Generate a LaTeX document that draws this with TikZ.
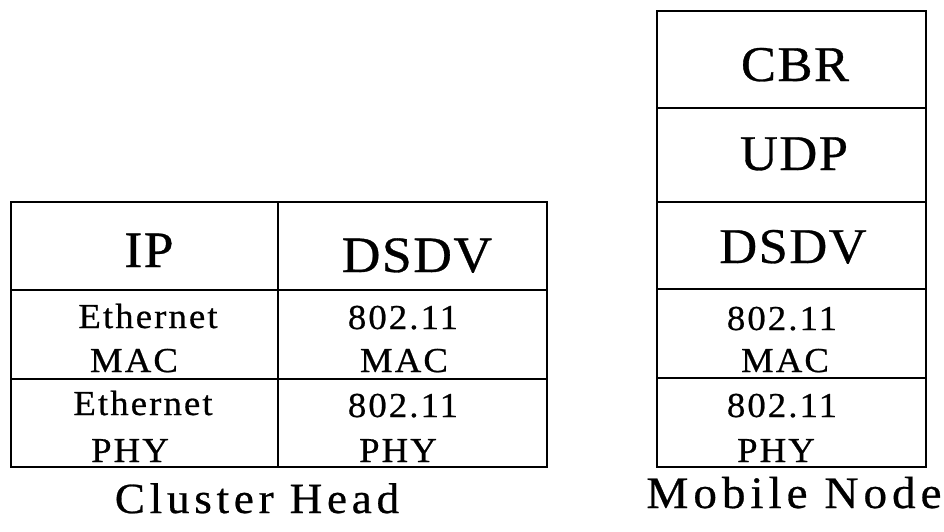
\documentclass[tikz,border=0pt]{standalone}
\usepackage{fontspec}
\setmainfont{Liberation Serif}
\newfontfamily\bigff{Liberation Serif}[FakeStretch=1.05,LetterSpace=3,FakeBold=0.6]
\newfontfamily\smallff{Liberation Serif}[FakeStretch=1.05,LetterSpace=6,FakeBold=0.6]
\newfontfamily\capff{Liberation Serif}[FakeStretch=1.05,LetterSpace=11,FakeBold=0.6]
\begin{document}
\begin{tikzpicture}[x=1pt,y=-1pt,
  tbl/.style={line width=1.8pt,line join=miter},
  big/.style={inner sep=0pt,anchor=base,font=\bigff\fontsize{50}{50}\selectfont},
  small/.style={inner sep=0pt,anchor=base,font=\smallff\fontsize{35}{35}\selectfont},
  captxt/.style={inner sep=0pt,anchor=base,font=\capff\fontsize{44}{44}\selectfont}]
\useasboundingbox[fill=white] (0,0) rectangle (944,531);
% Cluster head table
\draw[tbl] (11,202) rectangle (547,467);
\draw[tbl] (11,290) -- (547,290);
\draw[tbl] (11,379) -- (547,379);
\draw[tbl] (278,202) -- (278,467);
% Mobile node table
\draw[tbl] (657,11) rectangle (926,467);
\draw[tbl] (657,108) -- (926,108);
\draw[tbl] (657,202) -- (926,202);
\draw[tbl] (657,289) -- (926,289);
\draw[tbl] (657,378) -- (926,378);
% left labels
\node[big,font=\bigff\fontsize{51}{51}\selectfont] (ip) at (149,267) {IP};
\node[big,font=\bigff\fontsize{51}{51}\selectfont] (dsdvL) at (417,272) {DSDV};
\node[small] (eth1) at (148,328) {Ethernet};
\node[small] (mac1) at (134,372) {MAC};
\node[small] (w1) at (403,329) {802.11};
\node[small] (mac2) at (404,372) {MAC};
\node[small] (eth2) at (143,415) {Ethernet};
\node[small] (phy1) at (130,462) {PHY};
\node[small] (w2) at (403,417) {802.11};
\node[small] (phy2) at (398,462) {PHY};
\node[captxt,font=\capff\fontsize{43}{43}\selectfont] (ch) at (257,513) {Cluster Head};
% right labels
\node[big] (cbr) at (795,81) {CBR};
\node[big] (udp) at (794,170) {UDP};
\node[big] (dsdvR) at (793,263) {DSDV};
\node[small] (w3) at (782,330) {802.11};
\node[small] (mac3) at (785,372) {MAC};
\node[small] (w4) at (782,417) {802.11};
\node[small] (phy3) at (776,462) {PHY};
\node[captxt,font=\capff\fontsize{45}{45}\selectfont] (mn) at (794,508) {Mobile Node};
\end{tikzpicture}
\end{document}
